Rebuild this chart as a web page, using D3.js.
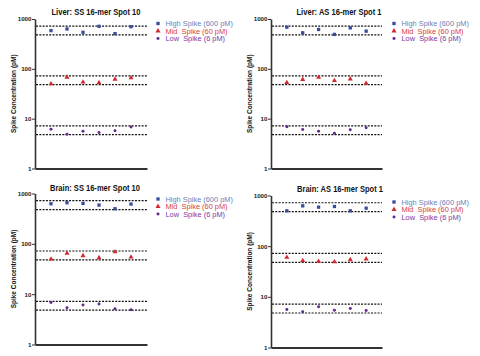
<!DOCTYPE html>
<html><head><meta charset="utf-8">
<script src="https://cdn.jsdelivr.net/npm/d3@7"></script>
<style>body{margin:0;background:#fff}svg{display:block}text{font-family:"Liberation Sans",Arial,sans-serif}</style>
</head><body>
<svg id="c" width="480" height="356"></svg>
<script>
const titles = ["Liver: SS 16-mer Spot 10","Liver: AS 16-mer Spot 1","Brain: SS 16-mer Spot 10","Brain: AS 16-mer Spot 1"];
const replicates = [1,2,3,4,5,6];
const seriesNames = ["High Spike (600 pM)","Mid  Spike (60 pM)","Low  Spike (6 pM)"];
const tickValues = [1,10,100,1000];
const tickLabels = ["1","10","100","1000"];
const limitLines = [720,480,72,48,7.2,4.8];
const yLabel = "Spike Concentration (pM)";
// values per panel
const high1 = [585,631,541,714,509,700];
const mid1  = [50,68,54,52.5,62,66];
const low1  = [6.1,4.86,5.6,5.3,5.7,6.8];
const high2 = [685,529,616,491,664,571];
const mid2  = [53,61,67.5,58,62.5,51];
const low2  = [6.85,6.07,5.6,5.1,6.0,6.55];
const high3 = [625,655,635,589,498,616];
const mid3  = [49.8,64.5,58,53,69.5,54.6];
const low3  = [6.85,5.37,6.07,6.35,5.13,4.9];
const high4 = [498,625,589,607,498,562];
const mid4  = [60,52,50,49,54,56];
const low4  = [5.6,5.06,6.35,5.46,5.9,5.37];

const panelData = [[high1,mid1,low1],[high2,mid2,low2],[high3,mid3,low3],[high4,mid4,low4]];
const layout = [
  {x0:35,x1:147,yT:19,yB:168.5,tx:96,ty:14.5,tw:89,lx:158,ly:[23.5,31,38.5],yl:14},
  {x0:271,x1:382,yT:19,yB:168.5,tx:339,ty:14.5,tw:85,lx:394,ly:[23.5,31,38.5],yl:250},
  {x0:35,x1:147,yT:193.5,yB:344.5,tx:95,ty:190.5,tw:90,lx:158,ly:[199,206.5,214],yl:14},
  {x0:271,x1:382,yT:195.5,yB:347.5,tx:340,ty:192,tw:86,lx:394,ly:[202,209.5,217],yl:250}
];
const markColors = ["#3a4a9c","#d0282e","#5b2a8c"];
const textColors = ["#6a7fb8","#d84040","#7a3aa8"];
const symbols = [d3.symbolSquare,d3.symbolTriangle,d3.symbolCircle];
const symSizes = [11,11,7];

const svg = d3.select("#c");
layout.forEach((L,pi)=>{
  const g = svg.append("g");
  const x = d3.scaleLinear().domain([0,7]).range([L.x0,L.x1]);
  const y = d3.scaleLog().domain([1,1000]).range([L.yB,L.yT]);
  g.selectAll("line.lim").data(limitLines).enter().append("line")
    .attr("x1",L.x0+1).attr("x2",L.x1).attr("y1",d=>y(d)).attr("y2",d=>y(d))
    .attr("stroke","#111").attr("stroke-width",1.2).attr("stroke-dasharray","2,1.3");
  const ay = g.append("g").attr("transform",`translate(${L.x0},0)`)
    .call(d3.axisLeft(y).tickValues(tickValues).tickFormat((d,i)=>tickLabels[i]).tickSize(3).tickSizeOuter(0));
  ay.select(".domain").attr("stroke","#333").attr("stroke-width",1.6);
  ay.selectAll(".tick line").attr("stroke","#333").attr("stroke-width",1);
  ay.selectAll(".tick text").attr("x",-3.5).attr("font-size",6.2).attr("font-weight","bold").attr("fill","#222");
  const ax = g.append("g").attr("transform",`translate(0,${L.yB})`)
    .call(d3.axisBottom(x).tickValues([]).tickSizeOuter(0));
  ax.select(".domain").attr("stroke","#333").attr("stroke-width",1.8);
  panelData[pi].forEach((vals,si)=>{
    g.selectAll(null).data(vals).enter().append("path")
      .attr("d",d3.symbol().type(symbols[si]).size(symSizes[si]))
      .attr("transform",(d,i)=>`translate(${x(replicates[i])},${y(d)})`)
      .attr("fill",markColors[si]);
  });
  g.append("text").attr("x",L.tx).attr("y",L.ty).attr("text-anchor","middle")
    .attr("font-size",9.5).attr("font-weight","bold").attr("fill","#111")
    .attr("textLength",L.tw).attr("lengthAdjust","spacingAndGlyphs").text(titles[pi]);
  g.append("text").attr("transform",`translate(${L.yl},${(L.yT+L.yB)/2}) rotate(-90)`)
    .attr("text-anchor","middle").attr("dy","0.35em").attr("font-size",6.5).attr("font-weight","bold").attr("fill","#111").text(yLabel);
  seriesNames.forEach((n,si)=>{
    g.append("path").attr("d",d3.symbol().type(symbols[si]).size(symSizes[si]))
      .attr("transform",`translate(${L.lx},${L.ly[si]})`).attr("fill",markColors[si]);
    g.append("text").attr("x",L.lx+7.5).attr("y",L.ly[si]).attr("dy","0.35em")
      .attr("font-size",7.4).attr("fill",textColors[si]).style("white-space","pre").text(n);
  });
});
</script>
</body></html>
